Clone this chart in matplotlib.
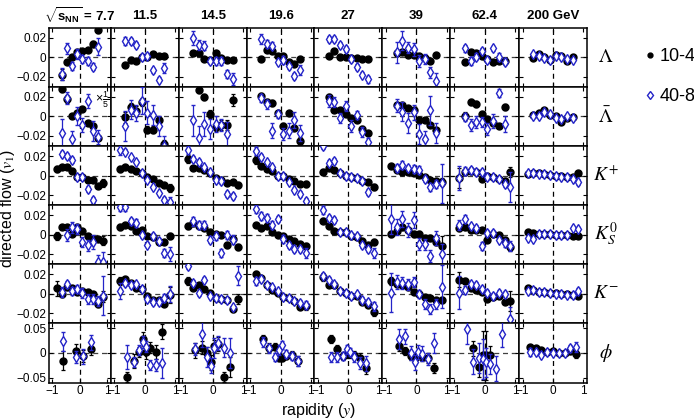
import numpy as np
import matplotlib.pyplot as plt
from matplotlib.lines import Line2D

plt.rcParams["font.family"] = "Liberation Sans"
plt.rcParams["mathtext.fontset"] = "custom"
plt.rcParams["mathtext.rm"] = "Liberation Sans"
plt.rcParams["mathtext.bf"] = "Liberation Sans:bold"
plt.rcParams["mathtext.it"] = "Liberation Sans:italic"

NA = np.nan

energies = ["7.7", "11.5", "14.5", "19.6", "27", "39", "62.4", "200 GeV"]
particles = [r"$\Lambda$", r"$\bar{\Lambda}$", r"$K^{+}$", r"$K_{S}^{\mathit{0}}$", r"$K^{-}$", r"$\phi$"]
cent_labels = ["10-40%", "40-80%"]

# rapidity bin centres
y_bins = [-0.83, -0.65, -0.46, -0.28, -0.09, 0.09, 0.28, 0.46, 0.65, 0.83]
phi_bins_77 = [-0.62, -0.15, 0.13, 0.40]
phi_bins = [-0.57, -0.37, -0.18, -0.05, 0.05, 0.18, 0.37, 0.57]
phi_bins_200 = [-0.76, -0.57, -0.38, -0.19, 0.0, 0.19, 0.38, 0.57, 0.76]
phi_x = [phi_bins_77, phi_bins, phi_bins, phi_bins, phi_bins, phi_bins, phi_bins, phi_bins_200]

# Lambda
lam_c = [
    [NA, -0.018, -0.005, 0.000, 0.005, 0.006, 0.007, 0.014, 0.028, NA],
    [NA, -0.0077, -0.0027, -0.0035, 0.000, 0.0007, 0.003, 0.0013, 0.0013, NA],
    [NA, 0.0045, 0.0045, -0.0015, -0.0027, 0.004, -0.0005, -0.0025, -0.0027, NA],
    [NA, -0.0017, 0.0074, 0.0067, 0.0013, 0.0013, -0.005, -0.0067, -0.0017, NA],
    [NA, 0.001, 0.0067, 0.000, 0.000, -0.001, -0.001, -0.0015, -0.0015, NA],
    [NA, 0.0045, 0.0055, 0.0025, 0.0022, 0.001, -0.0005, -0.004, 0.0022, NA],
    [NA, -0.0044, 0.005, 0.004, 0.0013, -0.002, -0.0044, -0.0034, -0.0034, NA],
    [NA, -0.001, 0.003, 0.000, -0.0027, 0.0024, 0.0013, -0.0034, 0.000, NA],
]
lam_c_err = [
    [NA, 0.0055, 0.002, 0.002, 0.002, 0.002, 0.002, 0.003, 0.003, NA],
    [NA, 0.0015, 0.0015, 0.0015, 0.0015, 0.0015, 0.0015, 0.0015, 0.0015, NA],
    [NA, 0.0015, 0.0015, 0.0015, 0.0015, 0.0015, 0.0015, 0.0015, 0.0015, NA],
    [NA, 0.0015, 0.0015, 0.0015, 0.0015, 0.0015, 0.0015, 0.0015, 0.0015, NA],
    [NA, 0.0015, 0.0015, 0.0015, 0.0015, 0.0015, 0.0015, 0.0015, 0.0015, NA],
    [NA, 0.003, 0.002, 0.002, 0.002, 0.002, 0.002, 0.002, 0.002, NA],
    [NA, 0.003, 0.0015, 0.0015, 0.0015, 0.0015, 0.0015, 0.0015, 0.0015, NA],
    [NA, 0.0012, 0.0012, 0.0012, 0.0012, 0.0012, 0.0012, 0.0012, 0.0012, NA],
]
lam_p = [
    [NA, -0.017, 0.009, -0.009, 0.0035, -0.0015, -0.004, -0.0095, 0.011, NA],
    [NA, 0.0168, 0.0163, 0.0123, 0.0005, 0.001, -0.0135, -0.0228, -0.011, NA],
    [NA, 0.0195, 0.0125, 0.012, -0.004, -0.004, -0.0035, -0.017, -0.0225, NA],
    [NA, 0.0185, 0.014, 0.012, -0.0044, -0.0032, -0.0094, -0.019, -0.0134, NA],
    [NA, 0.0187, 0.019, 0.0125, 0.0085, -0.0015, -0.010, -0.0177, -0.0227, NA],
    [NA, 0.005, 0.017, 0.010, 0.008, -0.004, -0.002, -0.0155, -0.024, NA],
    [NA, 0.009, -0.0037, 0.0007, 0.0064, -0.0027, 0.009, 0.000, -0.0044, NA],
    [NA, 0.003, 0.0013, -0.001, -0.0027, 0.0013, 0.000, -0.002, -0.0027, NA],
]
lam_p_err = [
    [NA, 0.006, 0.006, 0.004, 0.005, 0.004, 0.004, 0.004, 0.009, NA],
    [NA, 0.004, 0.003, 0.003, 0.003, 0.003, 0.003, 0.003, 0.005, NA],
    [NA, 0.007, 0.005, 0.005, 0.003, 0.004, 0.004, 0.004, 0.006, NA],
    [NA, 0.005, 0.004, 0.004, 0.003, 0.004, 0.003, 0.003, 0.005, NA],
    [NA, 0.003, 0.003, 0.003, 0.003, 0.003, 0.003, 0.003, 0.004, NA],
    [NA, 0.011, 0.010, 0.006, 0.007, 0.006, 0.005, 0.006, 0.008, NA],
    [NA, 0.004, 0.004, 0.004, 0.003, 0.003, 0.003, 0.004, 0.004, NA],
    [NA, 0.0015, 0.0015, 0.0015, 0.0015, 0.0015, 0.0015, 0.0015, 0.0015, NA],
]

# anti-Lambda (7.7 GeV panel scaled by 1/5)
alam_c = [
    [NA, 0.028, 0.0175, 0.000, 0.003, 0.008, -0.007, -0.0094, -0.022, NA],
    [NA, -0.001, 0.010, 0.0054, 0.0148, -0.0135, -0.0135, -0.004, -0.028, NA],
    [NA, NA, 0.027, 0.0195, 0.0025, -0.011, -0.0085, -0.009, 0.017, NA],
    [NA, 0.021, 0.015, 0.014, 0.003, -0.0098, 0.003, -0.0114, -0.025, NA],
    [NA, 0.0197, 0.007, 0.007, 0.002, -0.002, -0.004, -0.013, -0.0175, NA],
    [NA, 0.0118, 0.0118, 0.009, 0.007, -0.0037, -0.0037, -0.0087, -0.014, NA],
    [NA, 0.000, 0.015, 0.0128, 0.002, -0.0023, -0.0064, -0.0098, 0.0094, NA],
    [NA, 0.0017, 0.003, 0.0064, 0.0017, 0.0007, -0.0054, -0.0017, -0.001, NA],
]
alam_c_err = [
    [NA, 0.003, 0.004, 0.002, 0.002, 0.002, 0.002, 0.002, 0.002, NA],
    [NA, 0.006, 0.004, 0.005, 0.004, 0.004, 0.004, 0.004, 0.004, NA],
    [NA, NA, 0.003, 0.003, 0.004, 0.004, 0.005, 0.005, 0.006, NA],
    [NA, 0.003, 0.003, 0.003, 0.003, 0.003, 0.003, 0.003, 0.004, NA],
    [NA, 0.003, 0.002, 0.002, 0.002, 0.002, 0.002, 0.003, 0.003, NA],
    [NA, 0.002, 0.002, 0.002, 0.002, 0.002, 0.002, 0.002, 0.002, NA],
    [NA, 0.004, 0.003, 0.003, 0.003, 0.002, 0.002, 0.002, 0.003, NA],
    [NA, 0.0015, 0.0015, 0.0015, 0.0015, 0.0015, 0.0015, 0.0015, 0.0015, NA],
]
alam_p = [
    [NA, -0.0175, 0.019, -0.023, 0.0005, -0.0087, 0.0155, -0.015, -0.021, NA],
    [NA, -0.0098, 0.007, 0.0037, 0.016, 0.0037, 0.0013, -0.0098, -0.030, NA],
    [NA, -0.004, -0.022, -0.008, -0.013, -0.008, -0.009, -0.018, NA, NA],
    [NA, 0.019, 0.0122, -0.0145, 0.002, -0.018, -0.0145, -0.0037, -0.017, NA],
    [NA, 0.016, 0.015, -0.002, 0.0105, -0.010, 0.0013, -0.016, -0.026, NA],
    [NA, 0.011, 0.005, -0.007, 0.004, -0.018, -0.023, 0.0064, -0.017, NA],
    [NA, -0.001, -0.0087, -0.006, -0.006, -0.0128, -0.005, 0.024, -0.0077, NA],
    [NA, 0.0007, 0.000, 0.004, 0.0024, -0.0017, -0.0027, 0.0007, -0.0017, NA],
]
alam_p_err = [
    [NA, 0.015, 0.006, 0.008, 0.009, 0.007, 0.007, 0.010, 0.007, NA],
    [NA, 0.015, 0.010, 0.008, 0.014, 0.012, 0.010, 0.010, 0.010, NA],
    [NA, 0.016, 0.012, 0.012, 0.010, 0.008, 0.006, 0.012, NA, NA],
    [NA, 0.004, 0.005, 0.008, 0.004, 0.006, 0.008, 0.008, 0.008, NA],
    [NA, 0.006, 0.005, 0.005, 0.005, 0.006, 0.004, 0.005, 0.004, NA],
    [NA, 0.007, 0.010, 0.010, 0.008, 0.010, 0.008, 0.015, 0.010, NA],
    [NA, 0.004, 0.006, 0.006, 0.005, 0.006, 0.007, 0.004, 0.008, NA],
    [NA, 0.0015, 0.0015, 0.0015, 0.0015, 0.0015, 0.0015, 0.0015, 0.0015, NA],
]

# K+
kp_c = [
    [0.0067, 0.0084, 0.009, 0.0044, -0.001, -0.001, -0.0044, -0.005, -0.0108, -0.0077],
    [0.0067, 0.009, 0.0067, 0.005, 0.0024, -0.0017, -0.0034, -0.0077, -0.0101, -0.0128],
    [0.0168, 0.0077, 0.0077, 0.0057, 0.0024, -0.0024, -0.0044, -0.0077, -0.0067, -0.0101],
    [0.0158, 0.0101, 0.0067, 0.0044, 0.000, -0.0007, -0.0034, -0.0057, -0.0084, -0.0091],
    [0.0034, 0.0074, 0.0057, 0.0024, -0.0007, -0.0017, -0.0027, -0.0057, -0.0067, -0.0118],
    [0.010, 0.006, 0.004, 0.0034, 0.0027, 0.001, -0.0017, -0.0044, -0.0057, -0.0067],
    [-0.0027, 0.004, 0.005, 0.0034, -0.004, 0.000, -0.0017, -0.004, -0.006, 0.004],
    [0.0017, 0.0024, 0.0024, 0.0017, 0.001, 0.000, -0.0007, -0.001, -0.0017, 0.0024],
]
kp_c_err = [
    [0.003, 0.002, 0.002, 0.002, 0.002, 0.002, 0.002, 0.002, 0.002, 0.004],
    [0.003, 0.002, 0.002, 0.002, 0.002, 0.002, 0.002, 0.002, 0.002, 0.004],
    [0.004, 0.002, 0.002, 0.002, 0.002, 0.002, 0.002, 0.002, 0.002, 0.003],
    [0.004, 0.002, 0.002, 0.002, 0.002, 0.002, 0.002, 0.002, 0.002, 0.003],
    [0.003, 0.002, 0.002, 0.002, 0.002, 0.002, 0.002, 0.002, 0.002, 0.003],
    [0.002, 0.002, 0.002, 0.002, 0.002, 0.002, 0.002, 0.002, 0.002, 0.004],
    [0.010, 0.003, 0.003, 0.002, 0.002, 0.002, 0.002, 0.002, 0.003, 0.005],
    [0.0012, 0.0012, 0.0012, 0.0012, 0.0012, 0.0012, 0.0012, 0.0012, 0.0012, 0.0012],
]
kp_p = [
    [NA, 0.022, 0.020, 0.0158, -0.001, -0.001, -0.014, -0.025, NA, NA],
    [0.026, 0.0246, 0.0185, 0.0135, 0.0024, -0.005, -0.0118, -0.0178, -0.0246, -0.027],
    [0.026, 0.0168, 0.0135, 0.009, 0.0034, -0.005, -0.0057, -0.0185, -0.021, NA],
    [0.025, 0.019, 0.0135, 0.0084, 0.000, -0.0007, -0.0067, -0.0145, -0.019, -0.026],
    [0.030, 0.0128, 0.015, 0.0024, -0.0007, -0.0017, -0.0027, -0.0057, -0.0168, NA],
    [NA, 0.0074, 0.0108, 0.0077, 0.0067, 0.0057, -0.0034, -0.0118, -0.0084, -0.0077],
    [-0.0027, 0.005, 0.006, 0.004, 0.0034, -0.0017, -0.002, -0.004, -0.0084, -0.0118],
    [0.0024, 0.0024, 0.002, 0.0017, 0.001, -0.0005, -0.001, -0.0015, -0.0034, -0.0067],
]
kp_p_err = [
    [NA, 0.003, 0.003, 0.003, 0.002, 0.002, 0.003, 0.003, NA, NA],
    [0.005, 0.003, 0.002, 0.002, 0.002, 0.002, 0.002, 0.002, 0.003, 0.005],
    [0.004, 0.003, 0.003, 0.002, 0.002, 0.003, 0.003, 0.003, 0.003, NA],
    [0.004, 0.003, 0.002, 0.002, 0.002, 0.002, 0.002, 0.002, 0.003, 0.003],
    [0.003, 0.003, 0.003, 0.002, 0.002, 0.002, 0.002, 0.002, 0.003, NA],
    [NA, 0.004, 0.004, 0.003, 0.004, 0.004, 0.003, 0.004, 0.004, 0.020],
    [0.012, 0.004, 0.003, 0.003, 0.003, 0.003, 0.003, 0.003, 0.003, 0.015],
    [0.0015, 0.0015, 0.0015, 0.0015, 0.0015, 0.0015, 0.0015, 0.0015, 0.0015, 0.003],
]

# K0s
k0_c = [
    [-0.0017, 0.0077, 0.0077, 0.001, 0.0077, 0.0034, -0.0017, -0.0044, -0.0044, -0.006],
    [0.0077, 0.0101, 0.009, 0.0034, 0.005, -0.0017, -0.0027, -0.0077, -0.0077, -0.0017],
    [0.009, 0.0118, 0.0084, 0.0067, 0.0027, 0.0007, 0.000, -0.0108, -0.004, -0.0128],
    [0.0101, 0.0067, 0.0084, 0.0024, -0.0007, -0.0017, -0.004, -0.006, -0.0091, -0.0118],
    [0.0145, 0.0084, 0.0034, 0.0024, 0.0024, -0.0017, -0.0027, -0.0067, -0.0101, -0.0077],
    [0.0007, 0.004, 0.0074, 0.005, 0.0007, 0.0007, -0.0034, -0.0034, -0.0077, -0.0118],
    [0.0067, 0.0074, 0.005, 0.0044, 0.005, -0.005, 0.0007, -0.0007, -0.005, -0.0124],
    [0.0024, 0.0017, 0.0007, 0.0007, 0.0005, 0.000, -0.0007, -0.0007, -0.0017, -0.0017],
]
k0_c_err = [
    [0.004, 0.002, 0.002, 0.002, 0.002, 0.002, 0.002, 0.002, 0.002, 0.005],
    [0.003, 0.002, 0.002, 0.002, 0.002, 0.002, 0.002, 0.002, 0.002, 0.003],
    [0.003, 0.003, 0.002, 0.002, 0.002, 0.002, 0.002, 0.003, 0.003, 0.003],
    [0.002, 0.002, 0.002, 0.002, 0.002, 0.002, 0.002, 0.002, 0.002, 0.003],
    [0.003, 0.002, 0.002, 0.002, 0.002, 0.002, 0.002, 0.002, 0.002, 0.003],
    [0.003, 0.003, 0.003, 0.003, 0.003, 0.003, 0.003, 0.003, 0.003, 0.010],
    [0.003, 0.003, 0.002, 0.002, 0.002, 0.002, 0.002, 0.002, 0.003, 0.004],
    [0.0012, 0.0012, 0.0012, 0.0012, 0.0012, 0.0012, 0.0012, 0.0012, 0.0012, 0.0012],
]
k0_p = [
    [NA, NA, -0.0007, 0.0074, 0.0057, -0.0077, -0.011, -0.0077, -0.028, -0.028],
    [0.0286, 0.0286, 0.0135, 0.0118, -0.0007, -0.0101, -0.0017, -0.006, -0.0185, -0.020],
    [NA, 0.0135, 0.0101, 0.0101, -0.005, -0.001, -0.0185, -0.0007, -0.005, NA],
    [0.026, 0.019, 0.0168, 0.0101, 0.0158, -0.0044, -0.011, -0.015, -0.015, -0.0185],
    [0.025, 0.0168, 0.015, 0.0024, 0.0024, -0.0007, -0.0017, -0.011, -0.015, -0.019],
    [0.016, 0.0077, 0.016, 0.005, 0.015, -0.0094, -0.010, -0.022, -0.0034, -0.020],
    [0.010, 0.016, 0.0084, 0.0067, -0.0118, 0.002, 0.0017, -0.005, -0.0084, -0.012],
    [-0.0034, -0.0044, 0.0007, 0.0005, 0.0003, 0.000, -0.0005, -0.0007, 0.0067, 0.006],
]
k0_p_err = [
    [NA, NA, 0.006, 0.006, 0.005, 0.005, 0.006, 0.007, 0.007, 0.010],
    [0.004, 0.004, 0.004, 0.004, 0.003, 0.003, 0.003, 0.003, 0.004, 0.007],
    [NA, 0.005, 0.004, 0.004, 0.004, 0.004, 0.004, 0.004, 0.005, NA],
    [0.004, 0.004, 0.004, 0.004, 0.003, 0.004, 0.003, 0.003, 0.003, 0.005],
    [0.004, 0.003, 0.003, 0.002, 0.002, 0.002, 0.002, 0.003, 0.003, 0.005],
    [0.015, 0.008, 0.008, 0.007, 0.008, 0.006, 0.006, 0.006, 0.007, 0.010],
    [0.005, 0.004, 0.003, 0.003, 0.004, 0.003, 0.003, 0.003, 0.004, 0.005],
    [0.0015, 0.0015, 0.0015, 0.0015, 0.0015, 0.0015, 0.0015, 0.0015, 0.002, 0.002],
]

# K-
km_c = [
    [0.0056, 0.000, 0.0069, 0.0056, 0.0019, 0.0029, 0.0019, 0.0002, -0.0106, -0.0029],
    [0.013, 0.0153, 0.0106, 0.0063, 0.0046, -0.0022, -0.0066, -0.0066, -0.0106, -0.0012],
    [0.013, 0.0063, 0.0086, 0.0052, 0.0005, -0.0039, -0.0055, -0.0066, -0.0156, -0.0055],
    [0.0207, 0.0163, 0.0086, 0.0039, 0.0012, -0.0032, -0.0039, -0.0073, -0.014, -0.013],
    [0.0173, 0.0086, 0.0086, 0.0029, 0.0005, -0.0022, -0.0022, -0.0083, -0.0116, -0.019],
    [0.013, 0.010, 0.009, 0.007, 0.0019, 0.000, -0.0032, -0.0039, -0.0066, -0.0066],
    [0.0146, 0.013, 0.0063, 0.0036, 0.0022, -0.0049, -0.0032, -0.0022, -0.0079, -0.0073],
    [0.0063, 0.0039, 0.0022, 0.0019, 0.0012, 0.0005, 0.0002, -0.0005, -0.0015, -0.0022],
]
km_c_err = [
    [0.008, 0.003, 0.003, 0.002, 0.002, 0.002, 0.002, 0.002, 0.003, 0.006],
    [0.004, 0.002, 0.002, 0.002, 0.002, 0.002, 0.002, 0.002, 0.002, 0.008],
    [0.004, 0.002, 0.002, 0.002, 0.002, 0.002, 0.002, 0.002, 0.003, 0.005],
    [0.003, 0.002, 0.002, 0.002, 0.002, 0.002, 0.002, 0.002, 0.002, 0.004],
    [0.004, 0.002, 0.002, 0.002, 0.002, 0.002, 0.002, 0.002, 0.002, 0.004],
    [0.004, 0.003, 0.002, 0.002, 0.002, 0.002, 0.002, 0.002, 0.002, 0.003],
    [0.008, 0.003, 0.002, 0.002, 0.002, 0.002, 0.002, 0.002, 0.003, 0.010],
    [0.0012, 0.0012, 0.0012, 0.0012, 0.0012, 0.0012, 0.0012, 0.0012, 0.0012, 0.0012],
]
km_p = [
    [NA, 0.0019, 0.0096, 0.0029, 0.0046, 0.0012, -0.0055, -0.0055, -0.007, -0.002],
    [0.0029, 0.0113, 0.0086, 0.0096, 0.0046, -0.005, -0.0083, -0.0083, -0.004, -0.0005],
    [0.028, 0.0113, 0.0012, 0.0146, -0.0022, -0.0039, -0.0055, -0.0066, -0.014, 0.0187],
    [0.013, 0.0153, 0.0086, 0.0073, 0.0029, -0.0032, -0.0039, -0.0073, -0.0096, -0.0116],
    [0.0187, 0.0146, 0.0096, 0.0029, 0.0005, -0.0022, -0.0005, -0.006, -0.008, -0.013],
    [0.0012, 0.012, 0.011, 0.0096, 0.012, 0.000, -0.0106, -0.0156, -0.0106, 0.0073],
    [0.0012, 0.0039, 0.0096, 0.009, 0.0046, 0.0012, -0.0022, 0.0012, -0.0005, -0.026],
    [0.0029, 0.004, 0.0022, 0.0019, 0.0005, 0.0002, -0.0005, -0.001, -0.0015, 0.0029],
]
km_p_err = [
    [NA, 0.005, 0.004, 0.004, 0.004, 0.005, 0.005, 0.005, 0.005, 0.020],
    [0.008, 0.003, 0.003, 0.003, 0.002, 0.003, 0.003, 0.003, 0.004, 0.008],
    [0.003, 0.003, 0.003, 0.003, 0.002, 0.002, 0.002, 0.002, 0.003, 0.010],
    [0.004, 0.003, 0.002, 0.002, 0.002, 0.002, 0.002, 0.002, 0.003, 0.004],
    [0.003, 0.003, 0.003, 0.002, 0.002, 0.002, 0.002, 0.003, 0.003, 0.005],
    [0.020, 0.007, 0.006, 0.006, 0.005, 0.004, 0.005, 0.005, 0.005, 0.022],
    [0.017, 0.004, 0.003, 0.003, 0.003, 0.003, 0.003, 0.003, 0.003, 0.012],
    [0.0015, 0.0015, 0.0015, 0.0015, 0.0015, 0.0015, 0.0015, 0.0015, 0.0015, 0.003],
]

# phi (x positions from phi_x)
phi_c = [
    [-0.0156, 0.0043, -0.0064, 0.0071],
    [-0.049, -0.016, 0.002, 0.029, 0.002, 0.011, 0.002, 0.043],
    [0.0057, 0.011, 0.000, -0.019, 0.014, 0.018, -0.049, -0.028],
    [0.028, 0.011, 0.013, -0.010, -0.010, -0.0064, -0.005, -0.0156],
    [0.028, 0.007, -0.0064, -0.003, -0.003, -0.005, -0.011, -0.030],
    [0.014, 0.0043, -0.0064, -0.010, -0.005, -0.0085, -0.011, -0.030],
    [NA, 0.009, -0.028, -0.005, -0.005, -0.005, NA, NA],
    [0.0128, 0.009, 0.0057, 0.002, 0.0035, 0.000, 0.000, 0.0035, -0.0014],
]
phi_c_err = [
    [0.020, 0.014, 0.013, 0.012],
    [0.010, 0.014, 0.010, 0.014, 0.015, 0.012, 0.015, 0.015],
    [0.015, 0.013, 0.012, 0.015, 0.012, 0.015, 0.010, 0.020],
    [0.008, 0.010, 0.008, 0.006, 0.006, 0.006, 0.008, 0.010],
    [0.008, 0.010, 0.008, 0.008, 0.008, 0.008, 0.010, 0.012],
    [0.010, 0.008, 0.008, 0.008, 0.008, 0.008, 0.010, 0.010],
    [NA, 0.015, 0.020, 0.050, 0.050, 0.020, NA, NA],
    [0.004, 0.003, 0.003, 0.003, 0.003, 0.003, 0.003, 0.005, 0.008],
]
phi_p = [
    [0.0234, -0.0085, -0.007, 0.0213],
    [-0.008, -0.019, 0.006, 0.023, 0.013, -0.024, -0.024, -0.021],
    [0.008, 0.0376, -0.0085, -0.026, 0.010, 0.020, 0.011, 0.000],
    [0.023, 0.009, -0.0085, 0.0057, 0.016, -0.0014, -0.007, -0.0156],
    [-0.0085, -0.0085, -0.0064, 0.007, 0.002, -0.0085, -0.021, -0.021],
    [0.028, 0.034, 0.000, -0.019, 0.002, -0.0014, -0.012, 0.020],
    [0.048, -0.018, -0.010, -0.012, -0.019, -0.023, -0.032, 0.0376],
    [0.002, 0.002, -0.005, 0.001, 0.000, 0.000, 0.000, 0.009, 0.0128],
]
phi_p_err = [
    [0.020, 0.012, 0.015, 0.016],
    [0.025, 0.010, 0.010, 0.012, 0.012, 0.010, 0.012, 0.030],
    [0.012, 0.025, 0.020, 0.015, 0.020, 0.015, 0.020, 0.030],
    [0.010, 0.010, 0.008, 0.010, 0.008, 0.008, 0.008, 0.010],
    [0.010, 0.010, 0.008, 0.010, 0.008, 0.010, 0.012, 0.015],
    [0.020, 0.015, 0.015, 0.015, 0.015, 0.015, 0.012, 0.020],
    [0.030, 0.025, 0.030, 0.040, 0.030, 0.020, 0.025, 0.025],
    [0.008, 0.004, 0.004, 0.004, 0.004, 0.004, 0.004, 0.008, 0.010],
]

rows = [
    (lam_c, lam_c_err, lam_p, lam_p_err),
    (alam_c, alam_c_err, alam_p, alam_p_err),
    (kp_c, kp_c_err, kp_p, kp_p_err),
    (k0_c, k0_c_err, k0_p, k0_p_err),
    (km_c, km_c_err, km_p, km_p_err),
    (phi_c, phi_c_err, phi_p, phi_p_err),
]

blue = "#2424c8"

fig, axes = plt.subplots(
    6, 8, figsize=(6.94, 4.2), dpi=100, sharex=True, sharey="row",
    gridspec_kw=dict(width_ratios=[61.7, 68, 68, 67.5, 68, 68, 68.5, 68],
                     left=49 / 694, right=587 / 694, top=1 - 27.7 / 420,
                     bottom=1 - 382.5 / 420, wspace=0, hspace=0),
)

for r in range(6):
    vc, ec, vp, ep = rows[r]
    for c in range(8):
        ax = axes[r, c]
        x = phi_x[c] if r == 5 else y_bins
        ax.axhline(0, color="0.25", ls=(0, (4, 3)), lw=0.9, zorder=1)
        ax.axvline(0, color="k", ls=(0, (4, 3)), lw=0.9, zorder=1)
        ax.errorbar(x, vc[c], yerr=ec[c], fmt="o", ms=5, color="k",
                    elinewidth=0.9, capsize=1.5, capthick=0.9, zorder=3)
        ax.errorbar(x, vp[c], yerr=ep[c], fmt="d", ms=4.6, mfc="white", mec=blue,
                    mew=1.0, ecolor=blue, elinewidth=0.9, capsize=1.5,
                    capthick=0.9, zorder=4)
        ax.set_xlim(-1.12, 1.12)
        ax.set_xticks([-1, 0, 1])
        ax.set_xticklabels(["\u22121", "0", "1"])
        if r < 5:
            ax.set_ylim(-0.0303, 0.0303)
            ax.set_yticks([-0.02, 0, 0.02])
            ax.set_yticklabels(["\u22120.02", "0", "0.02"])
        else:
            ax.set_ylim(-0.06, 0.06)
            ax.set_yticks([-0.05, 0, 0.05])
            ax.set_yticklabels(["\u22120.05", "0", "0.05"])
        ax.tick_params(direction="in", length=3, width=0.8, top=True, right=True,
                       labelsize=8.5, pad=2)
        for s in ax.spines.values():
            s.set_linewidth(1.1)
        if r == 0:
            title = energies[c] if c > 0 else r"$\sqrt{\mathbf{s}_{\mathbf{NN}}}$ = " + energies[c]
            ax.text(0.5, 1.2, title, transform=ax.transAxes, ha="center",
                    va="center", fontsize=9.5, fontweight="bold")
    axes[r, 7].text(1.28, 0.5, particles[r], transform=axes[r, 7].transAxes,
                    ha="center", va="center", fontsize=14, math_fontfamily="stix")

axes[1, 0].text(0.86, 0.78, r"$\times\frac{1}{5}$", transform=axes[1, 0].transAxes,
                ha="center", va="center", fontsize=9)

fig.text(318 / 694, 1 - 410 / 420, r"rapidity ($y$)", ha="center", va="center",
         fontsize=11.5, math_fontfamily="stix")
fig.text(8 / 694, 1 - 208 / 420, r"directed flow ($v_1$)", ha="center", va="center",
         rotation=90, fontsize=11.5, math_fontfamily="stix")

handles = [
    Line2D([], [], ls="none", marker="o", ms=3.5, color="k"),
    Line2D([], [], ls="none", marker="d", ms=4.5, mfc="white", mec=blue, mew=1.0),
]
fig.legend(handles, cent_labels, loc="upper left", bbox_to_anchor=(645 / 694, 1 - 48 / 420),
           frameon=False, fontsize=13, handlelength=0.5, handletextpad=0.3,
           labelspacing=1.3, borderpad=0, borderaxespad=0)

fig.savefig("out.png", dpi=100)
